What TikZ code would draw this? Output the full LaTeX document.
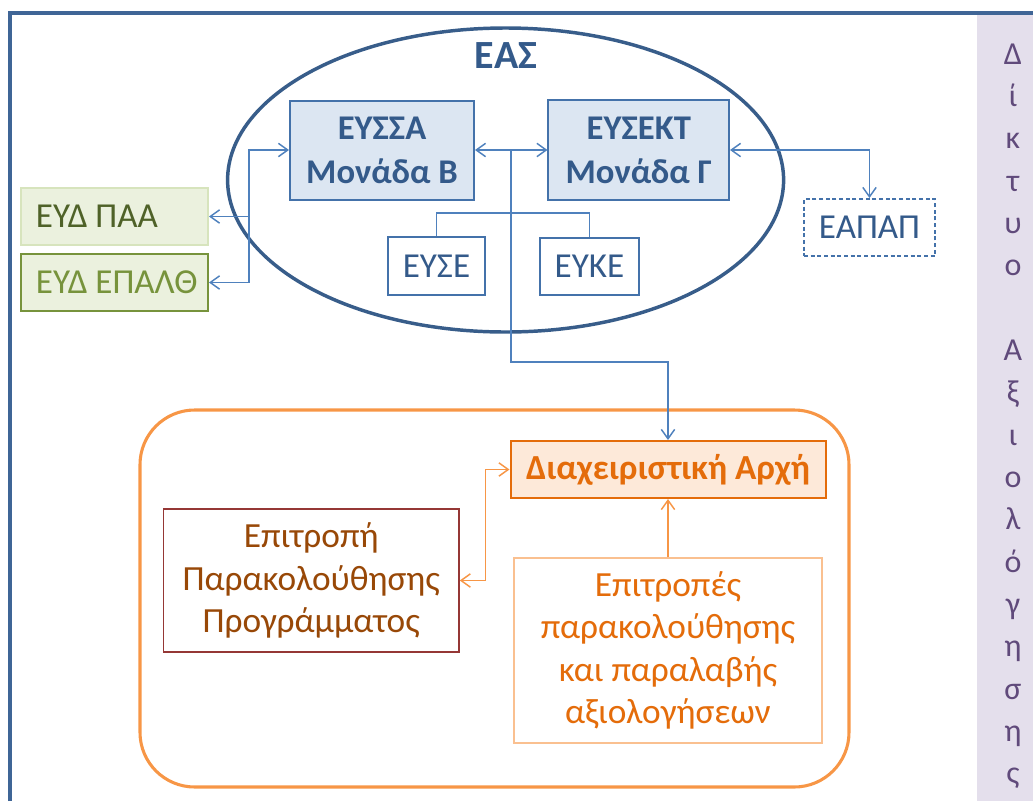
\documentclass[tikz,border=0pt]{standalone}
\usepackage{fontspec}
\setmainfont{Carlito}
\usetikzlibrary{arrows.meta,shapes.geometric,calc}
\definecolor{framec}{HTML}{3F6596}
\definecolor{ellc}{HTML}{385D8A}
\definecolor{textblue}{HTML}{345A8A}
\definecolor{boxblue}{HTML}{4472AA}
\definecolor{fillblue}{HTML}{DCE6F2}
\definecolor{connblue}{HTML}{4F81BD}
\definecolor{greenfill}{HTML}{EBF1DE}
\definecolor{greenlight}{HTML}{D7E4BD}
\definecolor{greendark}{HTML}{4F6228}
\definecolor{greenmid}{HTML}{77933C}
\definecolor{orangeline}{HTML}{F79646}
\definecolor{orangedark}{HTML}{E46C0A}
\definecolor{orangefill}{HTML}{FDE9D9}
\definecolor{orangelight}{HTML}{FAC090}
\definecolor{redbrown}{HTML}{953735}
\definecolor{browntext}{HTML}{984807}
\definecolor{purplebg}{HTML}{E4DFEC}
\definecolor{purpletext}{HTML}{604A7B}
\tikzset{
  bluebox/.style={draw=boxblue, fill=fillblue, line width=1.5pt, text=textblue,
    font=\bfseries\fontsize{26}{33}\selectfont, align=center, inner sep=0pt},
  whitebox/.style={draw=boxblue, fill=white, line width=1.5pt, text=textblue,
    font=\fontsize{26.3}{30}\selectfont, inner sep=0pt},
  greenbox/.style={fill=greenfill, line width=1.5pt, inner xsep=11.25pt, inner ysep=0pt,
    font=\fontsize{26.3}{30}\selectfont, minimum height=42.75pt},
  conn/.style={draw=connblue, line width=1.1pt},
  oconn/.style={draw=orangeline, line width=1.1pt},
  letter/.style={text=purpletext, font=\fontsize{24}{28}\selectfont, anchor=base, inner sep=0pt}
}
\begin{document}
\begin{tikzpicture}[x=0.75pt, y=-0.75pt, >={Straight Barb[length=7pt,width=10pt]}]
\useasboundingbox (0,0) rectangle (1033,801);
% purple strip
\fill[purplebg] (977,15) rectangle (1033,801);
\foreach \ch [count=\i from 0] in {Δ,ί,κ,τ,υ,ο,{},Α,ξ,ι,ο,λ,ό,γ,η,σ,η,ς}
  \node[letter] (s\i) at (1013,{64+42.35*\i}) {\ch};
% frame
\draw[framec, line width=2.6pt] (10,801) -- (10,13) -- (1033,13);
% ellipse
\node[ellipse, draw=ellc, line width=2.6pt, minimum width=417pt, minimum height=228pt] (eas) at (505.6,180) {};
\node[text=textblue, font=\bfseries\fontsize{30}{34}\selectfont] (easlabel) at (506,55.5) {ΕΑΣ};
% blue boxes
\node[bluebox, minimum width=138pt, minimum height=74.25pt] (eyssa) at (382,150) {ΕΥΣΣΑ\\Μονάδα Β};
\node[bluebox, minimum width=135.4pt, minimum height=75pt] (eysekt) at (638.75,150) {ΕΥΣΕΚΤ\\Μονάδα Γ};
\node[whitebox, minimum width=72.75pt, minimum height=43.5pt] (eyse) at (436.5,266) {ΕΥΣΕ};
\node[whitebox, minimum width=74.25pt, minimum height=42.75pt] (eyke) at (589.5,266.5) {ΕΥΚΕ};
\node[whitebox, dash pattern=on 3pt off 2pt, minimum width=98.25pt, minimum height=42.75pt] (eapap) at (869.5,227.5) {ΕΑΠΑΠ};
% green boxes
\node[greenbox, draw=greenlight, text=greendark] (eydpaa) at (114.5,216.5) {\makebox[117.75pt][l]{ΕΥΔ ΠΑΑ}};
\node[greenbox, draw=greenmid, text=greenmid] (eydepalth) at (114.5,282.5) {\makebox[117.75pt][l]{ΕΥΔ ΕΠΑΛΘ}};
% orange area
\draw[orangeline, line width=2.3pt, rounded corners=41pt] (140,410) rectangle (849,787);
\node[draw=orangedark, fill=orangefill, line width=1.5pt, text=orangedark,
  font=\bfseries\fontsize{26.4}{30}\selectfont, minimum width=236.25pt, minimum height=42.75pt, inner sep=0pt] (da) at (668,469.5) {Διαχειριστική Αρχή};
\node[draw=redbrown, fill=white, line width=1.2pt, text=browntext, align=center,
  font=\fontsize{26.5}{32}\selectfont, minimum width=221.6pt, minimum height=107.25pt, inner sep=0pt] (ep) at (311.25,580.5) {Επιτροπή\\Παρακολούθησης\\Προγράμματος};
\node[draw=orangelight, fill=white, line width=1.2pt, text=orangedark, align=center,
  font=\fontsize{26.5}{31.7}\selectfont, minimum width=231pt, minimum height=138.75pt, inner sep=0pt] (eps) at (668,650.5) {Επιτροπές\\παρακολούθησης\\και παραλαβής\\αξιολογήσεων};
% connectors
\coordinate (jl) at (249,150);
\coordinate (jm) at (511,150);
\coordinate (jb) at (511,362);
\draw[conn, <->] (eyssa.west) -- (jl) |- (eydepalth.east);
\draw[conn, ->] (jl |- eydpaa.east) -- (eydpaa.east);
\draw[conn, <->] (eyssa.east) -- (eysekt.west);
\draw[conn, ->] (jm) -- (jb) -| (da.north);
\draw[conn, <->] (eysekt.east) -| (eapap.north);
\draw[conn] (eyse.north) -- ++(0,-23) -| (eyke.north);
\draw[oconn, <->] (da.west) -- ++(-24,0) |- (ep.east);
\draw[oconn, ->] (eps.north) -- (da.south);
\end{tikzpicture}
\end{document}
